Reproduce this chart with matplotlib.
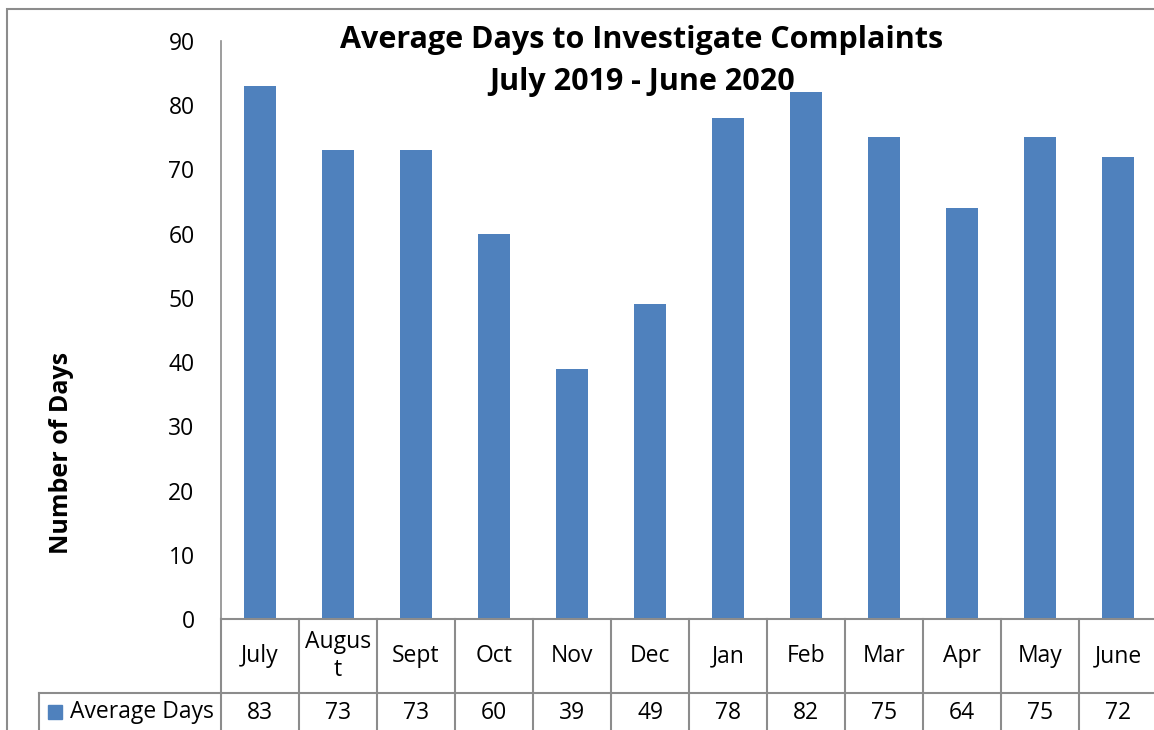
import matplotlib.pyplot as plt
from matplotlib.patches import Rectangle
import numpy as np

months = ['July', 'Augus\nt', 'Sept', 'Oct', 'Nov', 'Dec', 'Jan', 'Feb', 'Mar', 'Apr', 'May', 'June']
avg_days = [83, 73, 73, 60, 39, 49, 78, 82, 75, 64, 75, 72]
series_name = 'Average Days'

W, H = 1154, 730
bar_color = '#4F81BD'
grid_gray = '#8C8C8C'
fs = 16.5

plt.rcParams['font.family'] = ['Open Sans', 'DejaVu Sans']


def fx(px):
    return px / W


def fy(py):
    return 1 - py / H


fig = plt.figure(figsize=(W / 100, H / 100), dpi=100)

# chart area border
fig.add_artist(Rectangle((fx(7), fy(740)), fx(1160 - 7), fy(9) - fy(740),
                         transform=fig.transFigure, fill=False,
                         edgecolor=grid_gray, lw=1.5, clip_on=False))

x0, x1, y0, y1 = 221, 1157, 619, 41
ax = fig.add_axes([fx(x0), fy(y0), fx(x1 - x0), fy(y1) - fy(y0)])

x = np.arange(len(months))
ax.bar(x, avg_days, width=0.4, color=bar_color, zorder=2)
ax.set_xlim(-0.5, len(months) - 0.5)
ax.set_ylim(0, 90)
ax.set_yticks(range(0, 91, 10))
ax.tick_params(axis='y', length=0, labelsize=fs, pad=19)
ax.set_xticks([])
for s in ['top', 'right', 'bottom']:
    ax.spines[s].set_visible(False)
ax.spines['left'].set_color(grid_gray)
ax.spines['left'].set_linewidth(1.2)

fig.text(fx(61), fy(453), 'Number of Days', rotation=90, ha='center',
         va='center', fontsize=18, fontweight='bold')

fig.text(fx(642), fy(40), 'Average Days to Investigate Complaints',
         ha='center', va='center', fontsize=22, fontweight='bold')
fig.text(fx(642), fy(82), 'July 2019 - June 2020',
         ha='center', va='center', fontsize=22, fontweight='bold')

# data table below the axis
tr = ax.get_xaxis_transform()


def ay(py):
    return (y0 - py) / (y0 - y1)


ax.plot([-0.5, len(months) - 0.5], [0, 0], color=grid_gray, lw=1.5,
        transform=tr, clip_on=False)
for i in range(len(months) + 1):
    ax.plot([i - 0.5, i - 0.5], [0, ay(740)], color=grid_gray, lw=1.5,
            transform=tr, clip_on=False)
for i, (m, v) in enumerate(zip(months, avg_days)):
    ax.text(i, ay(656), m, transform=tr, ha='center', va='center',
            fontsize=fs, linespacing=1.2)
    ax.text(i, ay(713), str(v), transform=tr, ha='center', va='center',
            fontsize=fs)

fig.add_artist(plt.Line2D([fx(39), fx(x1)], [fy(693), fy(693)],
                          transform=fig.transFigure, color=grid_gray, lw=1.5))
fig.add_artist(plt.Line2D([fx(39), fx(39)], [fy(693), fy(740)],
                          transform=fig.transFigure, color=grid_gray, lw=1.5))
fig.add_artist(Rectangle((fx(48), fy(719)), fx(14), fy(705) - fy(719),
                         transform=fig.transFigure, color=bar_color))
fig.text(fx(70), fy(712), series_name, ha='left', va='center', fontsize=fs)

fig.savefig('out.png', dpi=100)
